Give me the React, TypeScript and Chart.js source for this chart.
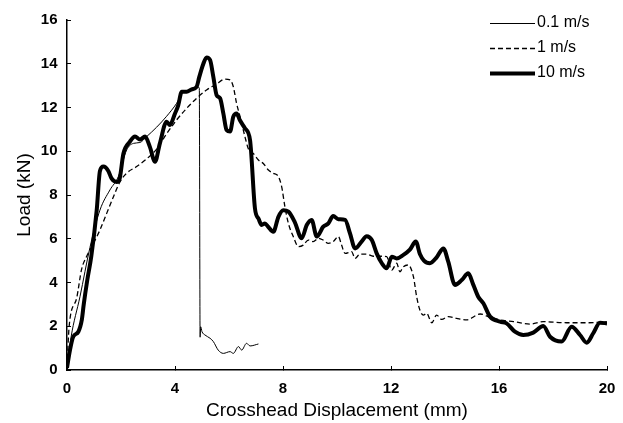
import React, { useEffect, useRef } from "react";
import { Chart, registerables } from "chart.js";

Chart.register(...registerables);

const FONT = '"Liberation Sans", Arial, Helvetica, sans-serif';

const seriesLabels = ["0.1 m/s", "1 m/s", "10 m/s"];
const xAxisTitle = "Crosshead Displacement (mm)";
const yAxisTitle = "Load (kN)";
const xTickStep = 4;
const yTickStep = 2;
const xRange = [0, 20];
const yRange = [0, 16];

// 0.1 m/s (thin solid)
const slowX = [0, 0.15, 0.48, 0.85, 1.22, 1.59, 1.9, 2.21, 2.46, 2.7, 2.95, 3.32, 3.69, 4.06, 4.31, 4.62, 4.86, 4.9, 4.93, 4.95, 5.0, 5.11, 5.3, 5.42, 5.6, 5.79, 6.04, 6.16, 6.35, 6.47, 6.65, 6.78, 7.09];
const slowY = [0.1, 1.5, 3.35, 5.6, 7.31, 8.23, 8.84, 10.06, 10.36, 10.4, 10.67, 11.1, 11.6, 12.19, 12.72, 12.8, 12.91, 12.9, 1.5, 1.98, 1.75, 1.6, 1.45, 1.3, 0.91, 0.76, 0.84, 0.76, 1.07, 0.91, 1.22, 1.1, 1.19];

// 1 m/s (dashed)
const midX = [0, 0.08, 0.36, 0.54, 0.73, 0.98, 1.22, 1.47, 1.72, 1.96, 2.21, 2.58, 2.95, 3.32, 3.69, 4.06, 4.43, 4.8, 5.17, 5.54, 5.85, 6.04, 6.16, 6.28, 6.41, 6.59, 6.72, 6.9, 7.09, 7.27, 7.46, 7.64, 7.83, 7.95, 8.07, 8.2, 8.38, 8.57, 8.75, 8.94, 9.12, 9.31, 9.49, 9.68, 9.86, 10.05, 10.17, 10.3, 10.54, 10.67, 10.85, 11.1, 11.34, 11.59, 11.84, 12.03, 12.21, 12.33, 12.46, 12.64, 12.83, 12.95, 13.07, 13.2, 13.32, 13.51, 13.69, 13.88, 14.12, 14.43, 14.8, 15.3, 15.67, 16.04, 16.54, 17.15, 17.64, 18.51, 19.25, 20];
const midY = [0.15, 2.0, 3.3, 4.6, 5.2, 5.79, 6.4, 7.16, 7.92, 8.6, 9.0, 9.3, 9.65, 10.1, 10.8, 11.43, 11.96, 12.42, 12.8, 13.07, 13.3, 13.26, 12.95, 12.19, 11.58, 10.67, 10.1, 9.9, 9.6, 9.44, 9.14, 8.99, 8.84, 8.38, 7.47, 6.7, 6.1, 5.64, 5.71, 5.94, 5.87, 6.02, 5.94, 5.79, 5.87, 6.1, 5.71, 5.33, 5.41, 5.1, 5.3, 5.3, 5.2, 5.2, 5.18, 4.57, 4.88, 4.49, 4.72, 4.8, 4.27, 3.35, 2.74, 2.51, 2.59, 2.16, 2.51, 2.31, 2.44, 2.36, 2.29, 2.56, 2.41, 2.29, 2.21, 2.1, 2.21, 2.16, 2.16, 2.2];

// 10 m/s (thick solid)
const fastX = [0, 0.11, 0.23, 0.42, 0.55, 0.62, 0.75, 0.9, 1.1, 1.22, 1.35, 1.53, 1.65, 1.84, 1.94, 2.09, 2.33, 2.52, 2.7, 2.89, 3.07, 3.26, 3.44, 3.69, 3.81, 4.0, 4.12, 4.25, 4.43, 4.62, 4.8, 4.9, 5.05, 5.17, 5.3, 5.42, 5.54, 5.67, 5.79, 5.91, 6.04, 6.16, 6.28, 6.4, 6.59, 6.78, 6.96, 7.1, 7.21, 7.33, 7.45, 7.64, 7.83, 8.01, 8.2, 8.44, 8.69, 8.88, 9.06, 9.25, 9.49, 9.68, 9.86, 10.05, 10.3, 10.48, 10.67, 10.91, 11.1, 11.29, 11.47, 11.66, 11.84, 12.03, 12.21, 12.46, 12.7, 12.92, 13.07, 13.22, 13.44, 13.69, 13.94, 14.12, 14.37, 14.62, 14.86, 15.05, 15.23, 15.42, 15.67, 16.04, 16.28, 16.59, 16.9, 17.27, 17.64, 17.89, 18.32, 18.69, 19.0, 19.25, 19.49, 19.74, 20.0];
const fastY = [0.1, 0.91, 1.52, 1.75, 2.3, 3.0, 4.1, 5.2, 7.3, 9.1, 9.3, 9.1, 8.76, 8.6, 8.7, 9.9, 10.44, 10.67, 10.54, 10.67, 10.2, 9.52, 10.36, 11.35, 11.2, 11.73, 12.1, 12.72, 12.72, 12.83, 12.95, 13.4, 14.0, 14.29, 14.17, 13.4, 12.57, 12.42, 11.73, 10.97, 10.9, 11.58, 11.73, 11.43, 11.05, 10.5, 7.4, 6.9, 6.63, 6.7, 6.55, 6.32, 7.0, 7.3, 7.24, 6.75, 6.02, 6.63, 6.86, 6.1, 6.55, 6.7, 7.04, 6.89, 6.86, 6.25, 5.56, 5.87, 6.12, 5.94, 5.33, 4.88, 4.65, 5.18, 5.1, 5.26, 5.5, 5.87, 5.3, 5.0, 4.88, 5.15, 5.56, 4.95, 3.89, 4.11, 4.42, 3.89, 3.35, 3.05, 2.44, 2.21, 2.13, 1.75, 1.6, 1.71, 2.01, 1.52, 1.3, 1.98, 1.6, 1.25, 1.68, 2.16, 2.13];

const toPoints = (xs: number[], ys: number[]) => xs.map((x, i) => ({ x, y: ys[i] }));

const insideLegend = {
  id: "insideLegend",
  afterDatasetsDraw(chart: any) {
    const { ctx, chartArea } = chart;
    const lineStart = chartArea.right - 117;
    const lineLen = 45;
    ctx.save();
    ctx.font = `16px ${FONT}`;
    ctx.textBaseline = "middle";
    ctx.textAlign = "left";
    chart.data.datasets.forEach((ds: any, i: number) => {
      const yText = chartArea.top + 2.5 + i * 25;
      const yLine = yText + 1;
      ctx.beginPath();
      ctx.strokeStyle = ds.borderColor;
      ctx.lineWidth = ds.borderWidth;
      ctx.setLineDash(ds.borderDash || []);
      ctx.moveTo(lineStart, yLine);
      ctx.lineTo(lineStart + lineLen, yLine);
      ctx.stroke();
      ctx.setLineDash([]);
      ctx.fillStyle = "#000";
      ctx.fillText(ds.label, lineStart + lineLen + 2, yText);
    });
    ctx.restore();
  },
};

const zeroPad = (scale: any) => {
  scale.paddingLeft = 0;
  scale.paddingRight = 0;
  scale.paddingTop = 0;
  scale.paddingBottom = 0;
};

export default function App() {
  const canvasRef = useRef<HTMLCanvasElement | null>(null);

  useEffect(() => {
    if (!canvasRef.current) return;
    const chart = new Chart(canvasRef.current, {
      type: "line",
      data: {
        datasets: [
          {
            label: seriesLabels[0],
            data: toPoints(slowX, slowY),
            borderColor: "#000",
            borderWidth: 1,
            borderDash: [],
            pointRadius: 0,
            cubicInterpolationMode: "monotone",
            fill: false,
          },
          {
            label: seriesLabels[1],
            data: toPoints(midX, midY),
            borderColor: "#000",
            borderWidth: 1.3,
            borderDash: [5, 3],
            pointRadius: 0,
            cubicInterpolationMode: "monotone",
            fill: false,
          },
          {
            label: seriesLabels[2],
            data: toPoints(fastX, fastY),
            borderColor: "#000",
            borderWidth: 4,
            borderDash: [],
            pointRadius: 0,
            cubicInterpolationMode: "monotone",
            fill: false,
          },
        ],
      },
      options: {
        animation: false,
        responsive: false,
        maintainAspectRatio: false,
        events: [],
        layout: { padding: { left: 0, right: 16, top: 20, bottom: 0 } },
        plugins: {
          legend: { display: false },
          tooltip: { enabled: false },
        },
        scales: {
          x: {
            type: "linear",
            min: xRange[0],
            max: xRange[1],
            afterFit: (scale: any) => {
              scale.height = 53;
              zeroPad(scale);
            },
            border: { display: true, color: "#000", width: 1.5 },
            grid: {
              display: true,
              drawOnChartArea: false,
              drawTicks: true,
              tickLength: -4,
              color: "#000",
              lineWidth: 1,
            },
            ticks: {
              stepSize: xTickStep,
              padding: 13.5,
              maxRotation: 0,
              color: "#000",
              font: { family: FONT, size: 15, weight: "bold" },
            },
            title: {
              display: true,
              text: xAxisTitle,
              color: "#000",
              font: { family: FONT, size: 19 },
              padding: { top: 0, bottom: 1 },
            },
          },
          y: {
            type: "linear",
            min: yRange[0],
            max: yRange[1],
            afterFit: (scale: any) => {
              scale.width = 67;
              zeroPad(scale);
            },
            border: { display: true, color: "#000", width: 1.5 },
            grid: {
              display: true,
              drawOnChartArea: false,
              drawTicks: true,
              tickLength: -4,
              color: "#000",
              lineWidth: 1,
            },
            ticks: {
              stepSize: yTickStep,
              padding: 13.5,
              color: "#000",
              font: { family: FONT, size: 15, weight: "bold" },
            },
            title: {
              display: true,
              text: yAxisTitle,
              color: "#000",
              font: { family: FONT, size: 19 },
              padding: { top: 13.5, bottom: 0 },
            },
          },
        },
      },
      plugins: [insideLegend],
    } as any);
    return () => chart.destroy();
  }, []);

  return (
    <div style={{ position: "fixed", left: 0, top: 0, width: 623, height: 423, background: "#fff" }}>
      <canvas ref={canvasRef} width={623} height={423} style={{ width: 623, height: 423, display: "block" }} />
    </div>
  );
}
